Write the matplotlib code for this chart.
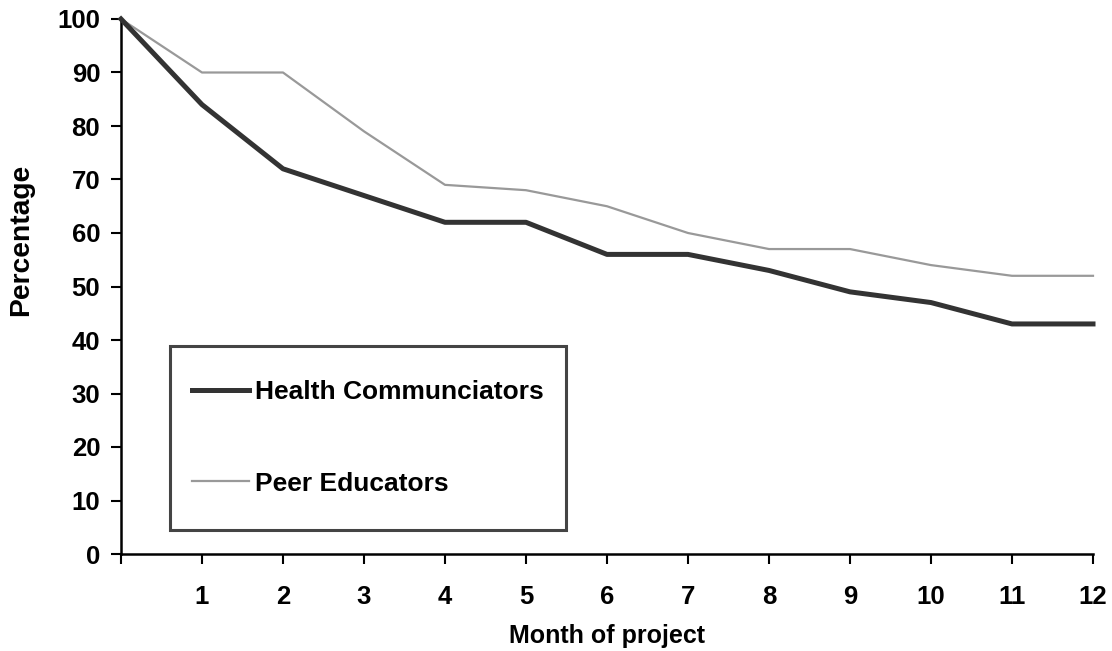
import matplotlib
matplotlib.use("Agg")
import matplotlib.pyplot as plt
from matplotlib.patches import Rectangle

months = list(range(0, 13))
month_labels = [""] + [str(m) for m in range(1, 13)]
health = [100, 84, 72, 67, 62, 62, 56, 56, 53, 49, 47, 43, 43]
peer = [100, 90, 90, 79, 69, 68, 65, 60, 57, 57, 54, 52, 52]
yticks = list(range(0, 101, 10))

plt.rcParams['font.family'] = ['Liberation Sans', 'DejaVu Sans']
plt.rcParams['font.weight'] = 'bold'

fig = plt.figure(figsize=(11.12, 6.51), dpi=100)
ax = fig.add_axes([121/1112, 1-554/651, (1093-121)/1112, (554-19)/651])

l1, = ax.plot(months, health, color='#333333', lw=3.6, label='Health Communciators',
              clip_on=False, solid_joinstyle='round', zorder=3)
l2, = ax.plot(months, peer, color='#999999', lw=1.6, label='Peer Educators',
              clip_on=False, zorder=2)

ax.set_xlim(0, 12)
ax.set_ylim(0, 100)
ax.set_xticks(months)
ax.set_xticklabels(month_labels)
ax.set_yticks(yticks)
for s in ['top', 'right']:
    ax.spines[s].set_visible(False)
for s in ['left', 'bottom']:
    ax.spines[s].set_linewidth(1.8)
ax.tick_params(axis='both', direction='out', length=7, width=1.5, labelsize=18.5)
ax.tick_params(axis='x', pad=15)
ax.tick_params(axis='y', pad=8)
for t in ax.get_xticklabels() + ax.get_yticklabels():
    t.set_fontweight('bold')

ax.set_xlabel('Month of project', fontsize=18, fontweight='bold', va='top')
ax.set_ylabel('Percentage', fontsize=20.3, fontweight='bold', va='bottom')
ax.xaxis.set_label_coords(0.5, (554-624)/535, transform=ax.transAxes)
ax.yaxis.set_label_coords((34-121)/972, (554-240)/535, transform=ax.transAxes)

rect = Rectangle((170/1112, 1-530/651), (566-170)/1112, (530-346)/651,
                 transform=fig.transFigure, fill=True, facecolor='white',
                 edgecolor='#444444', lw=2.2, zorder=5)
fig.patches.append(rect)

leg = fig.legend(handles=[l1, l2], loc='center', bbox_to_anchor=(368/1112, 1-438/651),
                 frameon=False, fontsize=19, handlelength=2.16, handletextpad=0.23,
                 labelspacing=2.55, borderpad=0)
for t in leg.get_texts():
    t.set_fontweight('bold')
leg.set_zorder(6)

fig.savefig('out.png', dpi=100)
